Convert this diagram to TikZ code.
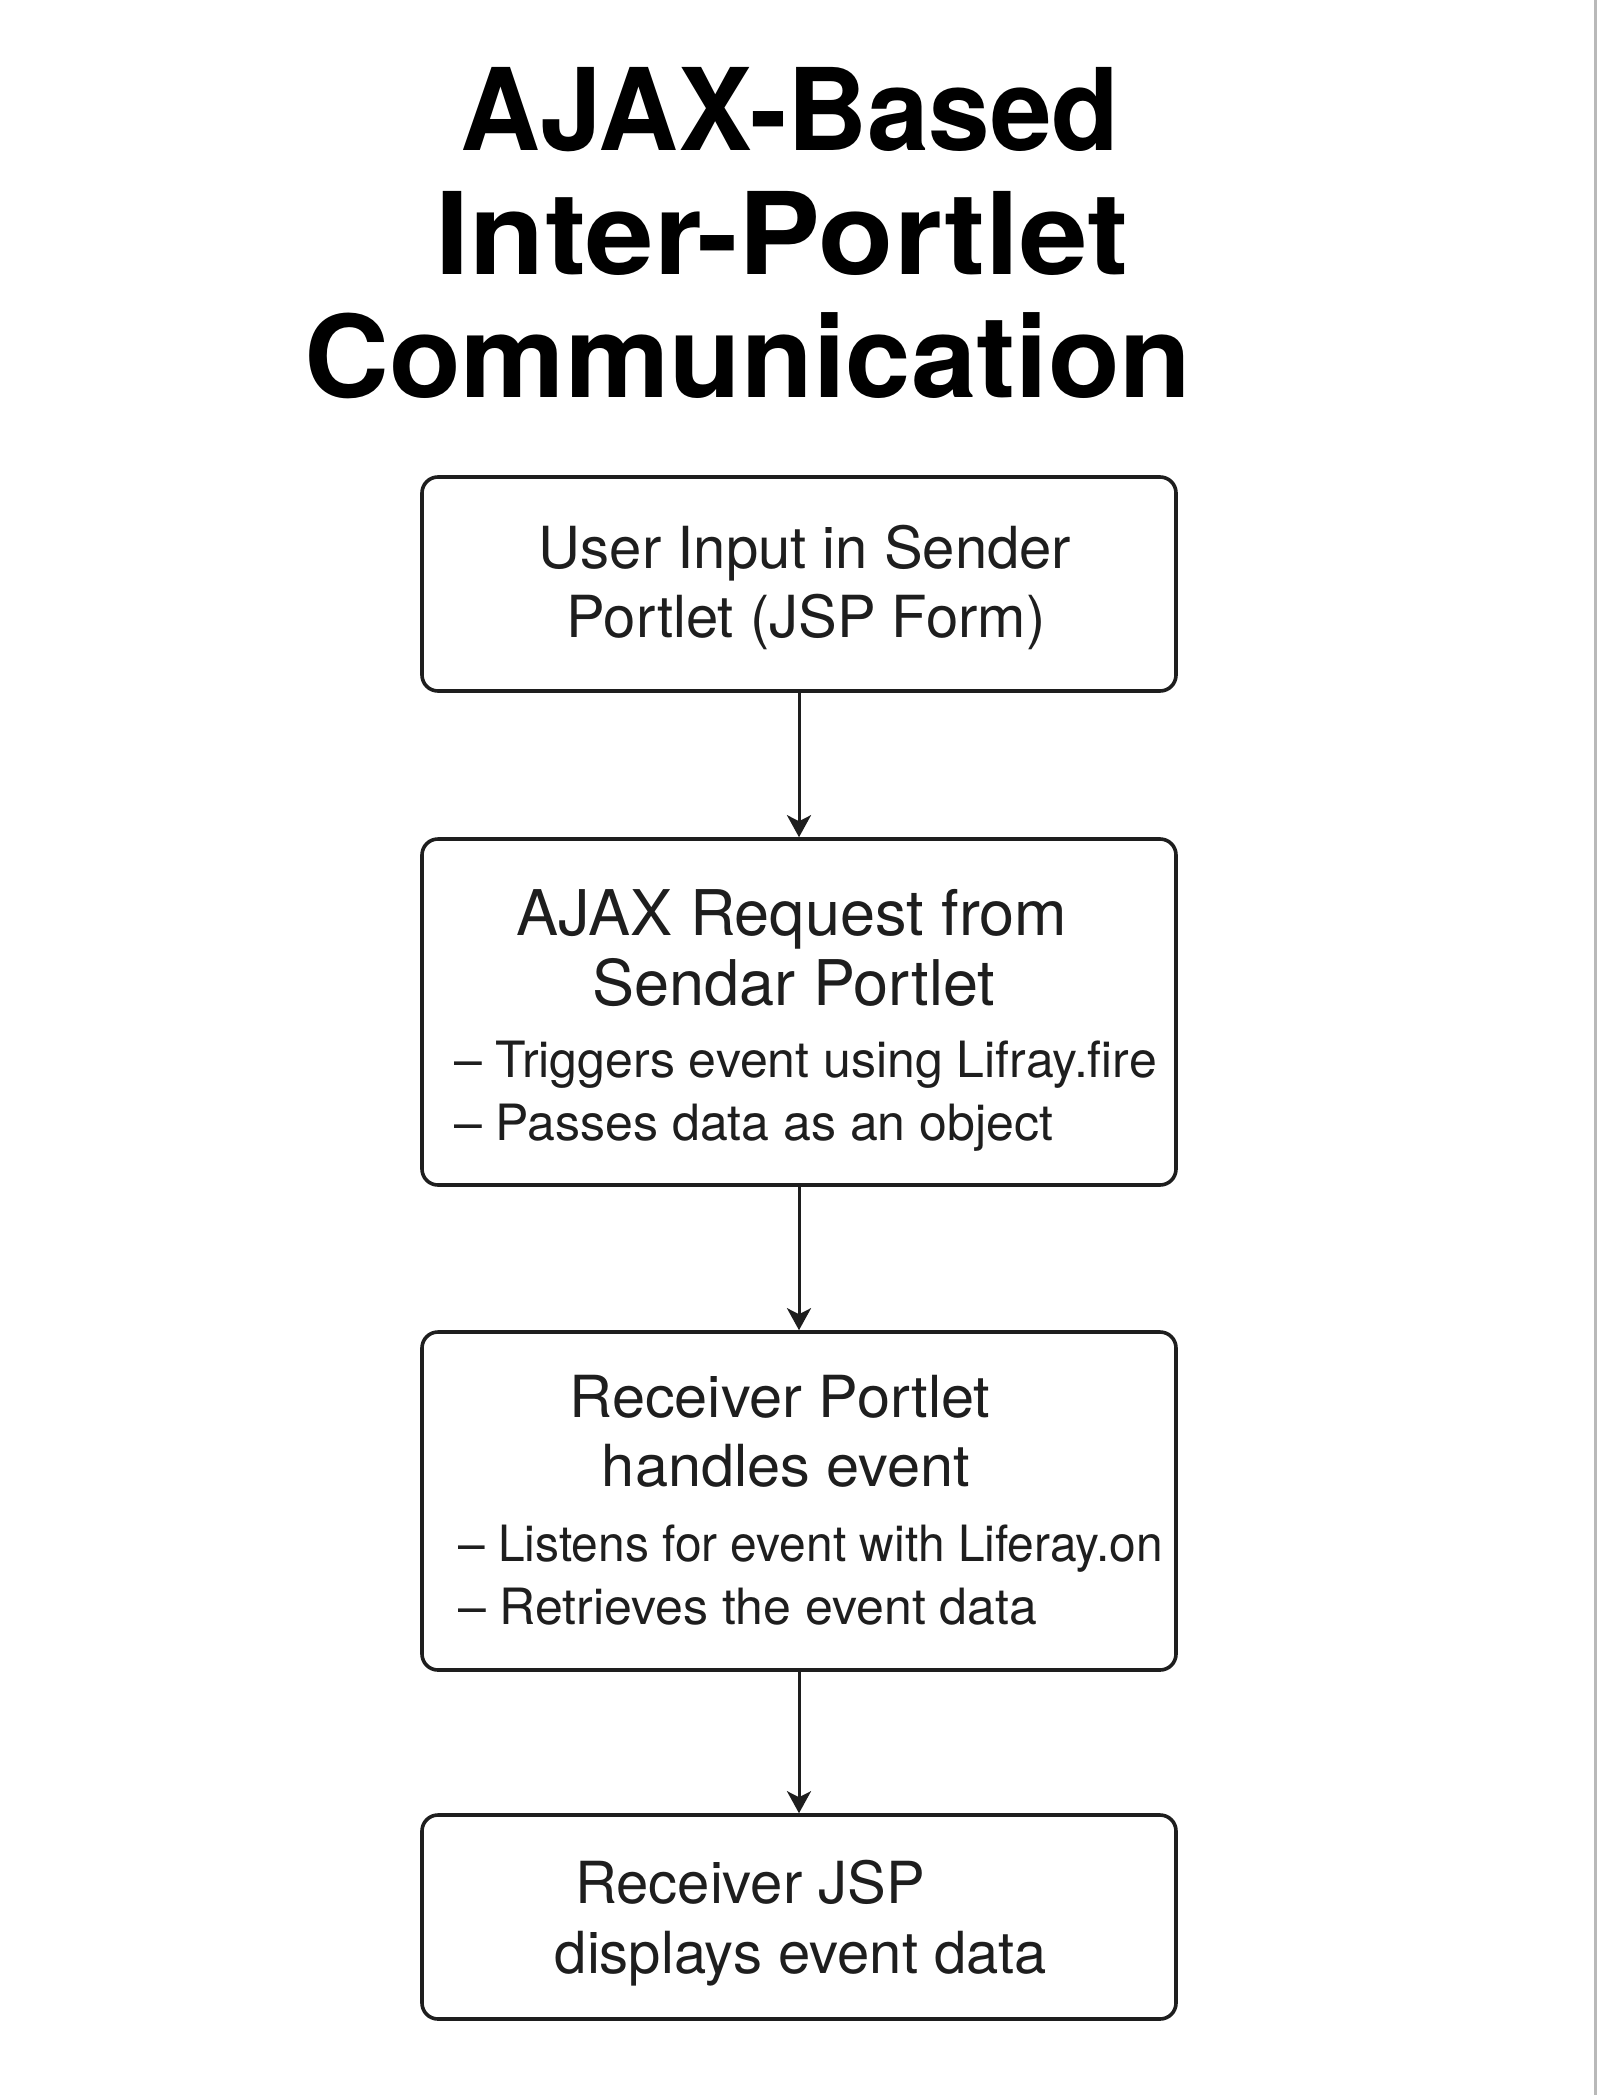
\documentclass[tikz,border=0pt]{standalone}
\usepackage{fontspec}
\setmainfont{TeX Gyre Heros}
\usetikzlibrary{arrows.meta}
\definecolor{ink}{HTML}{1E1E1E}
\tikzset{
  x=1pt, y=1pt,
  flowbox/.style={draw=ink, line width=3.6pt, rounded corners=16pt, fill=white,
    minimum width=754pt, inner sep=0pt, text=ink},
  titletxt/.style={anchor=base, inner sep=0pt, text=black,
    font=\fontsize{114}{130}\selectfont\bfseries},
  boxtxt/.style={anchor=base, inner sep=0pt, text=ink,
    font=\fontsize{58}{70}\selectfont},
  bigboxtxt/.style={anchor=base, inner sep=0pt, text=ink,
    font=\fontsize{63}{75}\selectfont},
  bullettxt/.style={anchor=base west, inner sep=0pt, text=ink,
    font=\fontsize{50}{62}\selectfont},
  flowarrow/.style={draw=ink, line width=3pt,
    -{Stealth[length=22pt, width=24pt, inset=6pt]}}
}
\begin{document}
\begin{tikzpicture}
\useasboundingbox[fill=white] (0,0) rectangle (1597,-2095);
\draw[gray!55, line width=3pt] (1595,0) -- (1595,-2095);

% title
\node[titletxt, xscale=0.972] (t1) at (790,-151) {AJAX-Based};
\node[titletxt, xscale=1.08] (t2) at (782,-274) {Inter-Portlet};
\node[titletxt, xscale=1.03] (t3) at (748,-397) {Communication};

% boxes
\node[flowbox, minimum height=214pt] (b1) at (799,-584) {};
\node[flowbox, minimum height=346pt] (b2) at (799,-1012) {};
\node[flowbox, minimum height=338pt] (b3) at (799,-1501) {};
\node[flowbox, minimum height=204pt] (b4) at (799,-1917) {};

% box 1 text
\node[boxtxt] (b1a) at (805,-568) {User Input in Sender};
\node[boxtxt] (b1b) at (806,-637) {Portlet (JSP Form)};

% box 2 text
\node[bigboxtxt] (b2a) at (792,-935) {AJAX Request from};
\node[bigboxtxt] (b2b) at (794,-1005) {Sendar Portlet};
\node[bullettxt] (b2c) at (454,-1077) {– Triggers event using Lifray.fire};
\node[bullettxt] (b2d) at (454,-1140) {– Passes data as an object};

% box 3 text
\node[boxtxt, xscale=1.025] (b3a) at (780,-1417) {Receiver Portlet};
\node[boxtxt, xscale=1.025] (b3b) at (786,-1486) {handles event};
\node[bullettxt, xscale=0.958] (b3c) at (458,-1561) {– Listens for event with Liferay.on};
\node[bullettxt] (b3d) at (458,-1624) {– Retrieves the event data};

% box 4 text
\node[boxtxt] (b4a) at (750,-1903) {Receiver JSP};
\node[boxtxt] (b4b) at (801,-1973) {displays event data};

% connectors
\draw[flowarrow] (b1.south) -- (b2.north);
\draw[flowarrow] (b2.south) -- (b3.north);
\draw[flowarrow] (b3.south) -- (b4.north);
\end{tikzpicture}
\end{document}
